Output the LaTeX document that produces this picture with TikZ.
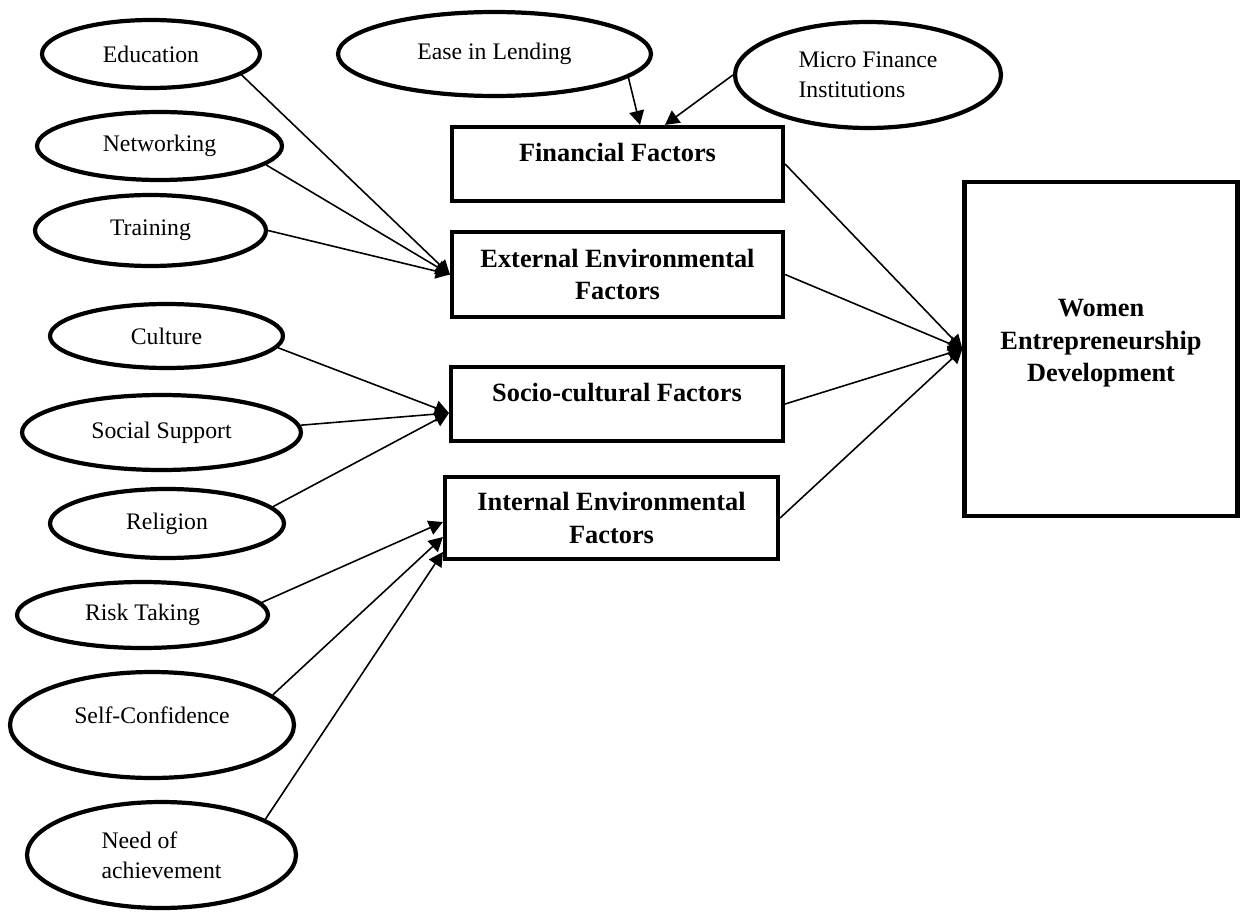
\documentclass[tikz,border=0pt]{standalone}
\usepackage{fontspec}
\setmainfont{Liberation Serif}
\usetikzlibrary{shapes.geometric,arrows.meta}

\tikzset{
	factor/.style={ellipse, draw, line width=2.4pt, inner sep=0pt, align=center, font=\fontsize{13.5}{17}\selectfont},
	block/.style={rectangle, draw, line width=2.4pt, inner sep=0pt, align=center, font=\fontsize{15}{18.5}\selectfont\bfseries},
	link/.style={line width=0.9pt, -{Triangle[length=8pt,width=8.5pt]}},
}

\begin{document}
\begin{tikzpicture}[x=0.02cm, y=-0.02cm]
 	\useasboundingbox (0,0) rectangle (1240,912);
 	% the four groups of factors and the outcome
	\node [block, minimum width=6.62cm, minimum height=1.48cm, text depth=13pt] (fin) at (617.5,164) {Financial Factors};
	\node [block, minimum width=6.62cm, minimum height=1.70cm] (ext) at (617.5,274.5) {External Environmental\\Factors};
	\node [block, minimum width=6.64cm, minimum height=1.48cm, text depth=13pt] (soc) at (617,404) {Socio-cultural Factors};
	\node [block, minimum width=6.66cm, minimum height=1.64cm] (int) at (611.5,518) {Internal Environmental\\Factors};
	\node [block, minimum width=5.46cm, minimum height=6.68cm, text depth=9.5pt] (wed) at (1101,349) {Women\\Entrepreneurship\\Development};
	% the single factors
	\node [factor, minimum width=4.36cm, minimum height=1.36cm] (edu) at (151,54) {Education};
	\node [factor, minimum width=4.90cm, minimum height=1.36cm] (net) at (159.5,146) {Networking};
	\node [factor, minimum width=4.62cm, minimum height=1.42cm] (trn) at (150.5,230.5) {Training};
	\node [factor, minimum width=6.26cm, minimum height=1.68cm] (ease) at (494.5,54) {Ease in Lending};
	\node [factor, minimum width=5.32cm, minimum height=2.12cm, align=left] (mfi) at (868,75) {Micro Finance\\Institutions};
	\node [factor, minimum width=4.66cm, minimum height=1.28cm] (cult) at (166.5,336) {Culture};
	\node [factor, minimum width=5.58cm, minimum height=1.50cm] (soci) at (161.5,432.5) {Social Support};
	\node [factor, minimum width=4.68cm, minimum height=1.38cm] (rel) at (167,523.5) {Religion};
	\node [factor, minimum width=5.02cm, minimum height=1.32cm] (risk) at (142.5,615) {Risk Taking};
	\node [factor, minimum width=5.68cm, minimum height=2.12cm, text depth=11pt] (self) at (152,725) {Self-Confidence};
	\node [factor, minimum width=5.38cm, minimum height=2.12cm, align=left] (need) at (161.5,855) {Need of\\achievement};
	% where the arrows meet the boxes
	\coordinate (fin-a) at ([xshift=0.45cm]fin.north);
	\coordinate (fin-b) at ([xshift=0.95cm]fin.north);
	\coordinate (soc-in) at ([yshift=-0.18cm]soc.west);
	\coordinate (int-a) at ([yshift=-0.08cm]int.west);
	\coordinate (int-b) at ([yshift=-0.38cm]int.west);
	\coordinate (int-c) at ([yshift=-0.68cm]int.west);
	\draw [link] (edu.-13) -- (ext.west);
	\draw [link] (net.-10) -- (ext.west);
	\draw [link] (trn.east) -- (ext.west);
	\draw [link] (ease.-10) -- (fin-a);
	\draw [link] (mfi.west) -- (fin-b);
	\draw [link] (cult.-6) -- (soc-in);
	\draw [link] (soci.3) -- (soc-in);
	\draw [link] (rel.9) -- (soc-in);
	\draw [link] (risk.6) -- (int-a);
	\draw [link] (self.14) -- (int-b);
	\draw [link] (need.19) -- (int-c);
	\foreach \grp in {fin,ext,soc,int}
		\draw [link] (\grp.east) -- (wed.west);
	%\draw [dashed] (ext.south east) -- (soc.north east);
\end{tikzpicture}
\end{document}
